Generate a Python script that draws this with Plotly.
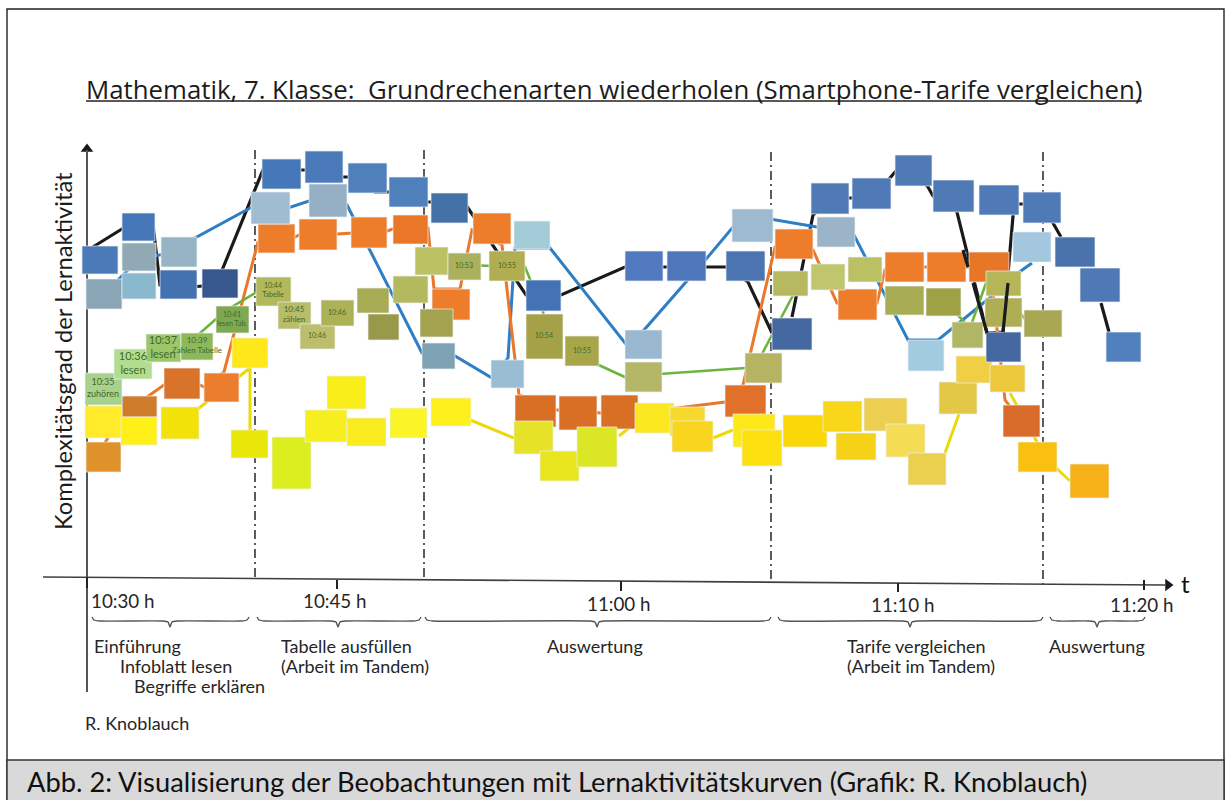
import plotly.graph_objects as go

# --- Sticky notes: left, right, top, bottom, colour per note ---
orange_left = [86,122,164,204,258,299,351,393,432,473,515,559,601,725,775,838,885,927,969,1003]
orange_right = [121,157,200,239,295,337,387,428,470,511,556,597,638,766,813,877,924,966,1009,1040]
orange_top = [442,396,368,373,224,219,217,215,289,213,395,396,395,385,229,289,252,252,252,405]
orange_bottom = [472,417,399,402,253,250,248,244,320,244,427,430,429,417,259,320,282,282,282,437]
orange_colors = ["#e0922a","#cf7d2d","#d9732a","#ed7d2e","#ee7d2b","#ee7d2b","#ee7d2b","#ea7727","#ee7d2b","#ee7d2b",
                 "#d96f25","#d96f25","#d96f25","#e0702a","#ed7d2b","#ee7d2b","#ee7d2b","#ee7d2b","#e87627","#d96c2a"]

green_left = [85,114,146,181,216,256,278,300,321,357,368,393,420,415,448,489,526,565,625,745,773,811,848,885,926,952,986,985,1024]
green_right = [122,152,181,213,249,291,311,335,354,389,399,428,453,448,481,525,563,599,662,782,808,845,882,924,961,983,1021,1022,1062]
green_top = [373,349,334,333,306,277,302,324,300,288,314,276,309,247,253,251,314,336,362,353,271,264,257,286,288,322,271,298,310]
green_bottom = [405,379,362,360,333,306,329,349,326,313,340,303,337,275,280,281,359,366,392,383,296,290,282,315,316,348,296,327,337]
green_colors = ["#a9d18e","#b2dd8e","#9cc66a","#8db85a","#7fa850","#b3b85a","#b9bc69","#bcbe6b","#adb257","#a8ad55",
                "#989a4a","#b4b960","#a3a24e","#bcc264","#abb05c","#b0ae50","#a5a148","#a9a64a","#b4b767","#b6b362",
                "#b6b960","#c0c66c","#bcc064","#a8ac52","#a0a144","#b0b664","#b5b657","#aeae55","#a8a852"]

yellow_left = [85,121,161,232,231,272,305,327,347,390,431,514,540,577,635,670,672,733,742,783,823,836,864,886,908,939,956,990,1018,1070]
yellow_right = [122,157,199,268,268,311,347,366,386,427,471,553,579,617,674,705,713,775,782,827,862,876,907,925,946,977,992,1025,1057,1109]
yellow_top = [406,417,407,338,430,437,410,376,418,408,398,421,451,427,403,407,421,414,430,415,401,433,398,424,453,382,356,365,442,464]
yellow_bottom = [438,445,439,368,458,489,442,409,446,438,426,454,481,467,433,436,452,447,466,447,432,460,431,457,485,414,383,392,472,498]
yellow_colors = ["#ffeb2a","#fff01a","#f2e20a","#ffe81a","#e9e60a","#dcee1f","#f7ee20","#f9ed1a","#faeb20","#fbf427",
                 "#fdf01c","#e5e228","#e9e620","#dbe625","#fbe820","#f7d92e","#f9d51f","#fde81a","#fde010","#fad808",
                 "#f8d71a","#f5d117","#eccf50","#f5dc55","#ebd050","#e3c848","#f0cf45","#ecc93a","#f9c00f","#f6b018"]

light_left = [86,122,122,161,251,309,422,491,514,625,732,817,908,1013]
light_right = [122,156,156,197,290,347,455,524,550,662,773,855,944,1051]
light_top = [279,273,243,237,192,184,343,360,221,330,209,217,340,232]
light_bottom = [309,299,271,267,224,217,369,388,249,359,242,247,371,262]
light_colors = ["#8aa5b5","#8ab8cc","#91a9b5","#96b4c4","#a0bcd0","#95afc5","#7ea1b4","#99bdd2","#a3cbd8","#9ab8cf",
                "#9dbad1","#9cb4c8","#a2cbe0","#a3c7de"]

dark_left = [82,122,160,202,262,305,348,389,431,526,625,667,726,772,811,852,895,933,979,986,1023,1055,1080,1106]
dark_right = [118,155,197,238,301,343,387,428,468,561,663,706,765,812,849,891,932,974,1019,1021,1061,1095,1120,1141]
dark_top = [246,213,270,269,159,151,163,177,193,280,251,251,251,318,183,178,155,180,185,332,192,237,268,332]
dark_bottom = [274,241,299,298,189,183,193,207,223,311,281,281,281,350,214,209,186,212,215,362,223,267,302,362]
dark_colors = ["#4a7ab8","#4677b8","#4472b0","#36588f","#4677b8","#4a7aba","#4f80bb","#4f80bb","#4472a8","#4472b5",
               "#5079bf","#4f78bb","#4c74b0","#44689f","#4f7ab5","#4f7ab5","#4f7ab5","#4f7ab5","#4f7ab5","#44689f",
               "#4f7ab5","#4a72ab","#4f78b5","#5080bd"]

# --- Activity curves (None = hidden stretch) ---
black_x = [88,130,153,160,190,216,265,285,322,330,368,375,410,415,450,466,526,561,625,663,706,726,748,772,None,
           792,813,832,870,890,895,913,928,933,953,987,1003,1013,1015,1040,1053,1061,None,1101,1109]
black_y = [250,224,225,285,287,285,165,170,170,177,177,192,192,202,202,205,295,295,267,267,267,267,282,333,None,
           317,215,198,198,178,172,170,187,196,196,333,332,216,204,204,223,237,None,303,332]
blue_x = [104,140,179,195,252,288,309,347,422,455,492,508,515,550,625,644,686,707,733,770,817,854,908,938,992,1018,1032]
blue_y = [294,258,252,238,207,208,201,205,353,356,378,358,248,248,343,330,282,258,227,219,227,235,340,340,296,273,263]
orange_x = [101,118,None,147,164,200,204,224,258,295,299,337,351,387,393,428,434,460,472,502,519,556,559,597,601,638,725,743,775,813,837,877,885,924,927,966,969,990,1005,1021]
orange_y = [450,420,None,397,385,385,387,372,242,237,235,234,233,231,229,228,289,289,230,245,395,410,410,413,413,413,402,385,247,250,303,303,270,267,267,267,267,267,400,421]
green_x = [100,133,163,190,225,270,None,464,525,543,545,None,590,640,None,645,760,None,762,800,None,955,968,None,965,990,None,1010,1035]
green_y = [389,364,348,342,311,284,None,265,267,311,330,None,361,384,None,375,367,None,354,282,None,312,326,None,342,272,None,300,332]
yellow_x = [180,250,250,None,451,514,None,619,635,None,713,733,None,945,959,None,1010,1037,None,1053,1070]
yellow_y = [423,368,430,None,412,438,None,436,423,None,438,430,None,453,414,None,393,442,None,465,481]
over_x = [1008,1003,None,963,968,None,973,987]
over_y = [283,332,None,250,267,None,283,333]

# --- Axes and phases ---
phase_x = [255,424,771,1043]
phase_top = [150,150,152,152]
phase_bottom = [579,580,582,584]
time_x_axis = [43,1165]
time_y_axis = [577,585]
complexity_x_axis = [87,87]
complexity_y_axis = [150,692]
tick_x = [87,337,621,898,1144]
tick_top = [577,580,581,583,580]
tick_bottom = [588,589,591,592,590]
tick_labels = ["10:30 h","10:45 h","11:00 h","11:10 h","11:20 h"]
tick_label_x = [123,335,619,903,1142]
tick_label_y = [600,600,603,604,604]
brace_left = [92,257,425,778,1050]
brace_mid = [170,338,597,910,1097]
brace_right = [249,421,771,1043,1145]
phase_labels = ["Einführung","Infoblatt lesen","Begriffe erklären","Tabelle ausfüllen","(Arbeit im Tandem)",
                "Auswertung","Tarife vergleichen","(Arbeit im Tandem)","Auswertung","R. Knoblauch"]
phase_label_x = [92,118,132,279,279,545,845,845,1047,83]
phase_label_y = [646,666,686,646,666,646,646,666,646,723]
note_texts = ["10:35<br>zuhören","10:36<br>lesen","10:37<br>lesen","10:39<br>Zahlen Tabelle","10:41<br>lesen Tab.",
              "10:44<br>Tabelle","10:45<br>zählen","10:46","10:46","10:53","10:55","10:54","10:55"]
note_text_x = [103,133,163,197,232,273,294,317,337,464,507,544,582]
note_text_y = [389,364,348,346,320,291,315,336,313,266,266,336,351]
note_text_size = [9,11,11,8,7,7,8,7,7,7,7,7,7]
TITLE = "Mathematik, 7. Klasse:  Grundrechenarten wiederholen (Smartphone-Tarife vergleichen)"
YLABEL = "Komplexitätsgrad der Lernaktivität"
CAPTION = "Abb. 2: Visualisierung der Beobachtungen mit Lernaktivitätskurven (Grafik: R. Knoblauch)"

fig = go.Figure()
INK = "#3f3f3f"
FONT = "Lato"


def line(x, y, color, width, z=1, dash="solid"):
    fig.add_trace(go.Scatter(x=x, y=y, mode="lines", zorder=z, hoverinfo="skip",
                             line=dict(color=color, width=width, dash=dash)))


def notes(left, right, top, bottom, colors):
    fig.add_trace(go.Bar(
        x=[(a + b) / 2 for a, b in zip(left, right)],
        y=[b - t for t, b in zip(top, bottom)],
        base=top,
        width=[b - a for a, b in zip(left, right)],
        marker=dict(color=colors, line=dict(color="rgba(235,240,245,0.7)", width=1)),
        zorder=2, hoverinfo="skip"))


def label(text, x, y, size, anchor="left", color="#262626", angle=0, family=FONT):
    fig.add_annotation(text=text, x=x, y=y, xref="x", yref="y", showarrow=False, xanchor=anchor,
                       yanchor="middle", textangle=angle, font=dict(family=family, size=size, color=color))


# axes
line(time_x_axis, time_y_axis, INK, 1.6)
line(complexity_x_axis, complexity_y_axis, "#555555", 2)
for px, top, bottom in zip(phase_x, phase_top, phase_bottom):
    line([px, px], [top, bottom], "#4a4a4a", 1.8, dash="9px,4px,2px,4px")
for tx, a, b in zip(tick_x, tick_top, tick_bottom):
    line([tx, tx], [a, b], "#222222", 2)
fig.add_trace(go.Scatter(x=[complexity_x_axis[0], time_x_axis[1] + 3], y=[complexity_y_axis[0] - 1, time_y_axis[1]],
                         mode="markers", hoverinfo="skip",
                         marker=dict(symbol=["triangle-up", "triangle-right"], size=11, color="#1a1a1a")))

# braces
for a, m, b in zip(brace_left, brace_mid, brace_right):
    fig.add_trace(go.Scatter(x=[a, a + 2, a + 8, m - 8, m - 2, m, m + 2, m + 8, b - 8, b - 2, b],
                             y=[617, 620, 621, 621, 622, 627, 622, 621, 621, 620, 617],
                             mode="lines", hoverinfo="skip",
                             line=dict(color="#555555", width=1.4, shape="spline", smoothing=0.6)))

# curves
line(black_x, black_y, "#1a1a1a", 3.2)
line(blue_x, blue_y, "#2E7EC4", 3)
line(orange_x, orange_y, "#E9782A", 3)
line(green_x, green_y, "#6DB33F", 2.6)
line(yellow_x, yellow_y, "#EBD90C", 3)

# notes
notes(orange_left, orange_right, orange_top, orange_bottom, orange_colors)
notes(green_left, green_right, green_top, green_bottom, green_colors)
notes(yellow_left, yellow_right, yellow_top, yellow_bottom, yellow_colors)
notes(light_left, light_right, light_top, light_bottom, light_colors)
notes(dark_left, dark_right, dark_top, dark_bottom, dark_colors)
line(over_x, over_y, "#1a1a1a", 3.2, z=3)

fig.add_trace(go.Scatter(x=note_text_x, y=note_text_y, mode="text", text=note_texts, zorder=4, hoverinfo="skip",
                         textposition="middle center",
                         textfont=dict(family=FONT, size=note_text_size, color="#3d6a2a")))

# texts
label(TITLE, 84, 89, 25.8, color="#1c1c1c", family="Open Sans")
line([86, 1142], [101, 101], "#222222", 1.4)
label(YLABEL, 63, 351, 23.7, anchor="center", color="#1c1c1c", angle=-90)
for t, x, y in zip(tick_labels, tick_label_x, tick_label_y):
    label(t, x, y, 18.8, anchor="center")
for t, x, y in zip(phase_labels, phase_label_x, phase_label_y):
    label(t, x, y, 18)
label("t", 1185, 583, 24, anchor="center", color="#111111")
label(CAPTION, 25, 781, 27.3, color="#111111")

fig.update_layout(
    width=1226, height=800, margin=dict(l=0, r=0, t=0, b=0),
    paper_bgcolor="white", plot_bgcolor="white", showlegend=False, barmode="overlay",
    xaxis=dict(range=[0, 1226], visible=False, fixedrange=True),
    yaxis=dict(range=[800, 0], visible=False, fixedrange=True),
    shapes=[
        dict(type="rect", xref="x", yref="y", x0=7, x1=1224, y0=9, y1=803, line=dict(color="#222222", width=1.4), layer="below"),
        dict(type="rect", xref="x", yref="y", x0=7, x1=1224, y0=760, y1=803, fillcolor="#d9d9d9", line=dict(color="#333333", width=1.4), layer="below"),
    ],
)
fig.write_html("out.html", config={"displayModeBar": False},
               post_script="document.body.style.margin='0';document.documentElement.style.overflow='hidden';")
